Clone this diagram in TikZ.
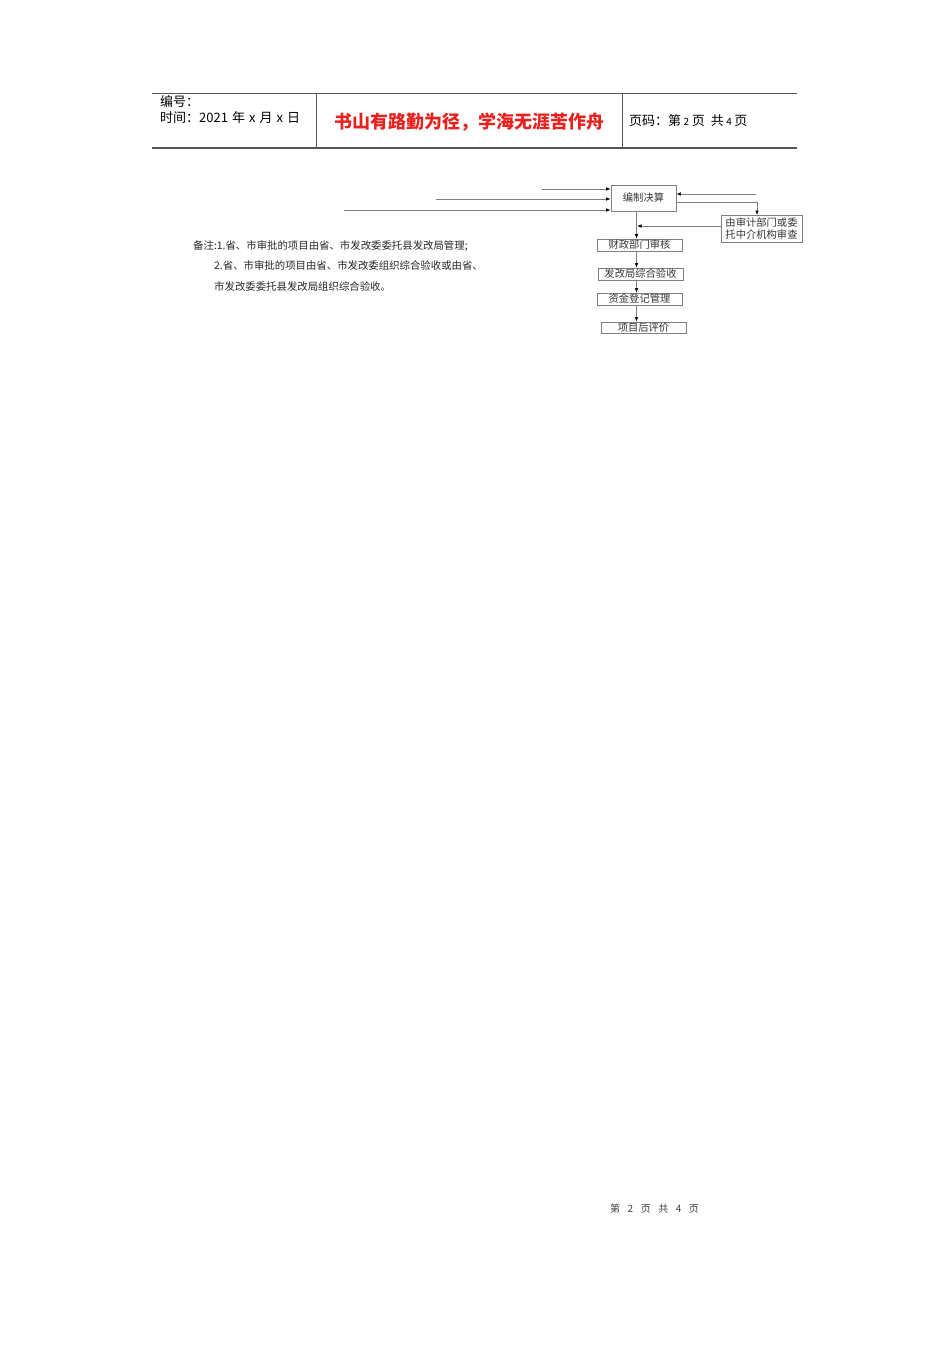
\documentclass[tikz,border=0pt]{standalone}
\usepackage{fontspec}
\setmainfont{Liberation Serif}
\newfontfamily\cjk{Noto Sans CJK SC}
\usetikzlibrary{arrows.meta}
\definecolor{hline}{HTML}{555555}
\definecolor{dline}{HTML}{808080}
\definecolor{title}{HTML}{E8211F}
\tikzset{
  box/.style={draw=dline, line width=0.7pt, inner sep=0pt, font=\cjk\fontsize{10.3}{12}\selectfont, text=black!80},
  arr/.style={draw=dline, line width=0.7pt, -{Latex[length=4.5pt,width=3.5pt,color=black]}},
  hd/.style={draw=hline, line width=0.9pt},
  note/.style={anchor=west, inner sep=0pt, font=\cjk\fontsize{10.4}{12}\selectfont, text=black!85},
  htext/.style={anchor=west, inner sep=0pt, font=\cjk\fontsize{13}{15}\selectfont}
}
\begin{document}
\begin{tikzpicture}[x=1pt,y=-1pt]
\useasboundingbox (0,0) rectangle (950,1346);
% header
\coordinate (hTL) at (152,93);
\coordinate (hTR) at (797,93);
\coordinate (hBL) at (152,148);
\coordinate (hBR) at (797,148);
\coordinate (v1t) at (316,93);
\coordinate (v1b) at (316,148);
\coordinate (v2t) at (622,93);
\coordinate (v2b) at (622,148);
\draw[hd] (hTL) -- (hTR);
\draw[hd, line width=1.2pt] (hBL) -- (hBR);
\draw[hd] (v1t) -- (v1b);
\draw[hd] (v2t) -- (v2b);
\node[htext] (bh) at (160,102) {编号：};
\node[htext] (sj) at (160,118) {时间：2021\hspace{4pt}年\hspace{4pt}x\hspace{4pt}月\hspace{4pt}x\hspace{4pt}日};
\node[anchor=center, inner sep=0pt, font=\cjk\bfseries\fontsize{18}{20}\selectfont, text=title] (tt) at (469.5,122) {书山有路勤为径，学海无涯苦作舟};
\node[htext] (ym) at (629,121) {页码：第\hspace{2.5pt}{\fontsize{10}{12}\selectfont 2}\hspace{2.5pt}页\hspace{6pt}共\hspace{2.5pt}{\fontsize{10}{12}\selectfont 4}\hspace{2.5pt}页};
% flowchart
\node[box, minimum width=65pt, minimum height=26pt] (jue) at (643.5,198) {编制决算};
\node[box, minimum width=81pt, minimum height=27pt, align=center] (sc) at (761.5,228.5) {由审计部门或委\\托中介机构审查};
\node[box, minimum width=85pt, minimum height=12pt] (cz) at (639.5,245) {财政部门审核};
\node[box, minimum width=85pt, minimum height=12pt] (fg) at (640.5,274) {发改局综合验收};
\node[box, minimum width=85pt, minimum height=12pt] (zj) at (639.5,299) {资金登记管理};
\node[box, minimum width=85pt, minimum height=11pt] (xm) at (643.5,327.5) {项目后评价};
\coordinate (in1) at (542,189);
\coordinate (in2) at (436,199);
\coordinate (in3) at (344,210);
\coordinate (r1) at (756,194);
\coordinate (r2) at (676,202);
\coordinate (r2c) at (757,202);
\coordinate (r2e) at (757,215);
\coordinate (s1) at (721,226);
\coordinate (s1e) at (637,226);
\coordinate (vx) at (636.5,0);
\draw[arr] (in1) -- (in1 -| jue.west);
\draw[arr] (in2) -- (in2 -| jue.west);
\draw[arr] (in3) -- (in3 -| jue.west);
\draw[arr] (r1) -- (r1 -| jue.east);
\draw[arr] (r2) -- (r2c) -- (r2e);
\draw[arr] (s1) -- (s1e);
\draw[arr] (jue.south -| vx) -- (cz.north -| vx);
\draw[arr] (cz.south -| vx) -- (fg.north -| vx);
\draw[arr] (fg.south -| vx) -- (zj.north -| vx);
\draw[arr] (zj.south -| vx) -- (xm.north -| vx);
% notes
\node[note] (n1) at (193,246) {备注:1.省、市审批的项目由省、市发改委委托县发改局管理;};
\node[note] (n2) at (214,266) {2.省、市审批的项目由省、市发改委组织综合验收或由省、};
\node[note] (n3) at (214,287) {市发改委委托县发改局组织综合验收。};
% footer
\node[anchor=west, inner sep=0pt, font=\cjk\fontsize{10}{12}\selectfont, text=black!75] (ft) at (610,1209) {第\hspace{7.5pt}2\hspace{7.5pt}页\hspace{7.5pt}共\hspace{7.5pt}4\hspace{7.5pt}页};
\end{tikzpicture}
\end{document}
